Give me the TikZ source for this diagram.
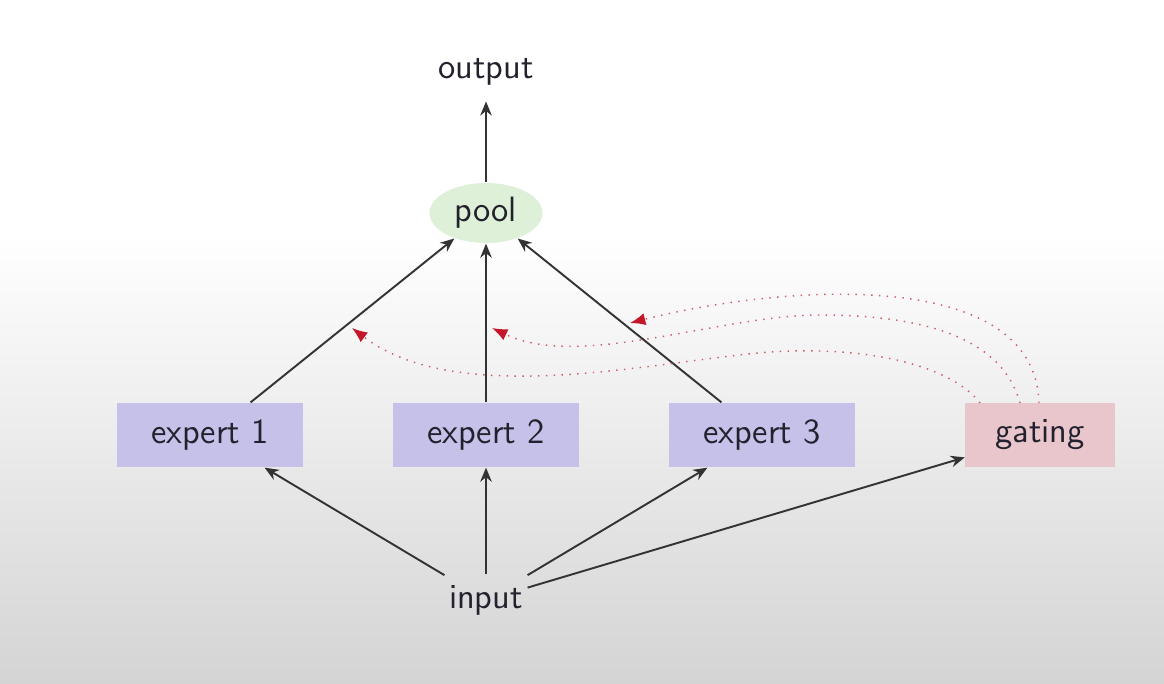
\documentclass[tikz,border=0pt]{standalone}
\usetikzlibrary{arrows.meta,shapes.geometric}
\definecolor{bgbot}{HTML}{D4D4D4}
\definecolor{expfill}{HTML}{C5C1E8}
\definecolor{gatefill}{HTML}{E9C5CC}
\definecolor{poolfill}{HTML}{DEF0D7}
\definecolor{txt}{HTML}{22222E}
\definecolor{linec}{HTML}{333333}
\definecolor{redtip}{HTML}{C4182A}
\definecolor{reddot}{HTML}{D05A68}
\begin{document}
\begin{tikzpicture}[x=0.3125pt,y=-0.3125pt,
  every node/.style={font=\sffamily\fontsize{11}{13}\selectfont, text=txt},
  expbox/.style={rectangle, fill=expfill, minimum width=58.4pt, minimum height=20pt, inner sep=0pt},
  gatebox/.style={rectangle, fill=gatefill, minimum width=46.6pt, minimum height=20pt, inner sep=0pt},
  poolnode/.style={ellipse, fill=poolfill, minimum width=35.3pt, minimum height=18.75pt, inner sep=0pt},
  plain/.style={minimum width=25.6pt, minimum height=15.6pt, inner sep=0pt},
  conn/.style={draw=linec, line width=0.6pt, -{Stealth[length=4.4pt,width=3.6pt]}},
  gate/.style={draw=reddot, line width=0.45pt, dotted, -{Latex[length=4.8pt,width=3.8pt,color=redtip,fill=redtip]}}]
  \useasboundingbox (0,0) rectangle (1164,683);
  \fill[white] (0,0) rectangle (1164,235);
  \shade[top color=white, bottom color=bgbot] (0,234) rectangle (1164,683);

  \node[plain, minimum height=18pt] (out) at (486,72) {output};
  \node[poolnode] (pool) at (486,213) {pool};
  \node[expbox] (e1) at (210,435) {expert 1};
  \node[expbox] (e2) at (486,435) {expert 2};
  \node[expbox] (e3) at (762,435) {expert 3};
  \node[gatebox] (g) at (1040,435) {gating};
  \node[plain] (in) at (486,600) {input};

  \draw[conn] (pool) -- (out);
  \draw[conn] (e1) -- (pool);
  \draw[conn] (e2) -- (pool);
  \draw[conn] (e3) -- (pool);
  \draw[conn] (in) -- (e1);
  \draw[conn] (in) -- (e2);
  \draw[conn] (in) -- (e3);
  \draw[conn] (in) -- (g);

  \coordinate (g1) at (980,403);
  \coordinate (g2) at (1020,403);
  \coordinate (g3) at (1039,403);
  \coordinate (t1) at (352,328);
  \coordinate (t2) at (492,328);
  \coordinate (t3) at (630,323);
  \draw[gate] (g1) .. controls (955,370) and (880,345) .. (770,352)
                   .. controls (660,360) and (460,410) .. (t1);
  \draw[gate] (g2) .. controls (1000,330) and (905,315) .. (820,315)
                   .. controls (720,315) and (580,370) .. (t2);
  \draw[gate] (g3) .. controls (1035,265) and (780,285) .. (t3);
\end{tikzpicture}
\end{document}
